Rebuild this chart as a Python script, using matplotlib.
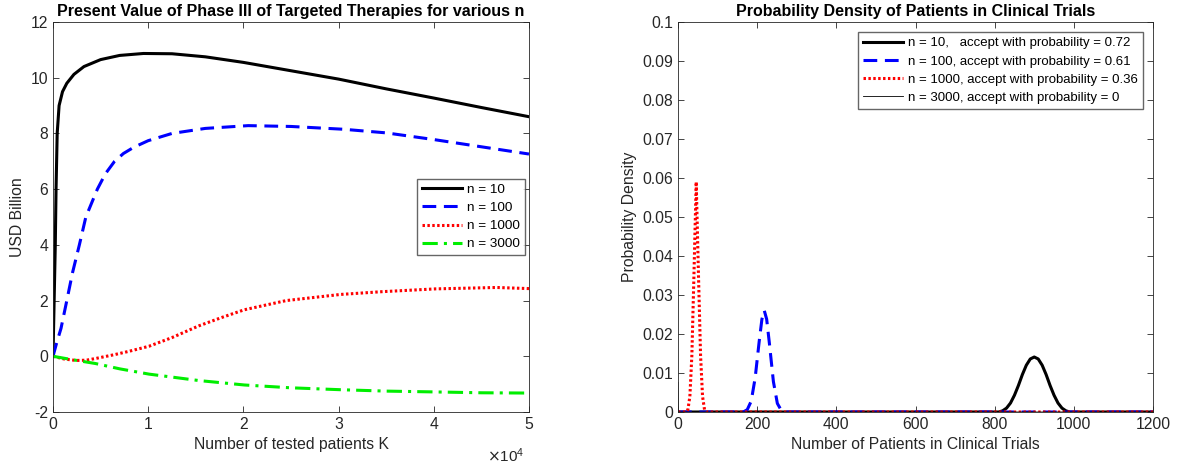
import numpy as np
import matplotlib
matplotlib.use('Agg')
import matplotlib.pyplot as plt
from matplotlib.ticker import FuncFormatter

plt.rcParams['font.family'] = ['Liberation Sans', 'DejaVu Sans']
plt.rcParams['axes.unicode_minus'] = False

# --- left panel: present value vs number of tested patients K
k_n10 = [0, 120, 240, 320, 440, 640, 1000, 1450, 2200, 3250, 5000, 7000, 9500, 12500, 16000,
         20000, 25000, 30000, 35000, 40000, 45000, 50000]
pv_n10 = [0, 2, 4, 6, 8, 9, 9.5, 9.8, 10.12, 10.4, 10.65, 10.8, 10.87, 10.86, 10.75,
          10.55, 10.25, 9.95, 9.6, 9.27, 8.93, 8.6]

k_n100 = [0, 400, 840, 1450, 2050, 2770, 3450, 4660, 5500, 6470, 7400, 8470, 10000, 12500, 16000,
          20500, 25000, 30500, 35000, 40000, 45000, 50000]
pv_n100 = [0, 0.5, 1.0, 2.0, 3.0, 4.0, 5.0, 6.0, 6.55, 7.0, 7.28, 7.5, 7.74, 8.0, 8.18,
           8.28, 8.25, 8.15, 8.02, 7.78, 7.52, 7.26]

k_n1000 = [0, 1200, 2450, 3500, 4460, 6470, 8000, 10080, 12490, 15300, 17700, 20100,
           24500, 30200, 34600, 40200, 46600, 50000]
pv_n1000 = [0, -0.1, -0.15, -0.14, -0.08, 0.06, 0.18, 0.36, 0.67, 1.09, 1.39, 1.67,
            2.0, 2.22, 2.32, 2.42, 2.47, 2.43]

k_n3000 = [0, 2000, 4460, 7000, 10080, 15300, 20100, 24900, 30200, 35000, 40200, 45000, 50000]
pv_n3000 = [0, -0.12, -0.26, -0.45, -0.64, -0.87, -1.03, -1.13, -1.2, -1.25, -1.28, -1.31, -1.32]

# --- right panel: probability density of patients in clinical trials
x_d10 = [0, 810, 820, 830, 840, 850, 860, 870, 880, 890, 900, 910, 920, 930,
         940, 950, 960, 970, 980, 990, 1200]
y_d10 = [0, 0, 0.0003, 0.001, 0.0023, 0.0043, 0.0068, 0.0096, 0.012, 0.0136, 0.0141,
         0.0136, 0.012, 0.0096, 0.0068, 0.0043, 0.0023, 0.001, 0.0003, 0, 0]

x_d100 = [0, 165, 175, 185, 195, 205, 212, 218, 224, 231, 241, 251, 261, 271, 1200]
y_d100 = [0, 0, 0.0006, 0.0028, 0.0088, 0.018, 0.0238, 0.026, 0.0238, 0.0175, 0.0078,
          0.0022, 0.0004, 0, 0]

x_d1000 = [0, 20, 25, 30, 35, 40, 46, 52, 57, 62, 67, 72, 1200]
y_d1000 = [0, 0, 0.0006, 0.004, 0.0145, 0.034, 0.059, 0.034, 0.0145, 0.004, 0.0006, 0, 0]

x_d3000 = [0, 1, 1200]
y_d3000 = [0.0076, 0, 0]

labels_left = ['n = 10', 'n = 100', 'n = 1000', 'n = 3000']
labels_right = ['n = 10,   accept with probability = 0.72',
                'n = 100, accept with probability = 0.61',
                'n = 1000, accept with probability = 0.36',
                'n = 3000, accept with probability = 0']

axcol = '#262626'
fig = plt.figure(figsize=(11.79, 4.67), dpi=100)
ax1 = fig.add_axes([53/1179, 55/467, 476/1179, 390/467])
ax2 = fig.add_axes([678/1179, 55/467, 475/1179, 390/467])

ax1.plot(k_n10, pv_n10, color='k', lw=2.2, label=labels_left[0])
ax1.plot(k_n100, pv_n100, color='b', lw=2.2, ls=(0, (4.5, 2.5)), label=labels_left[1])
ax1.plot(k_n1000, pv_n1000, color='r', lw=2.2, ls=(0, (0.8, 0.8)), label=labels_left[2])
ax1.plot(k_n3000, pv_n3000, color='#00ee00', lw=2.2, ls=(0, (5, 2, 1, 2)), label=labels_left[3])
ax1.set_xlim(0, 50000)
ax1.set_ylim(-2, 12)
ax1.set_yticks(np.arange(-2, 13, 2))
ax1.set_xticks(np.arange(0, 50001, 10000))
ax1.xaxis.set_major_formatter(FuncFormatter(lambda v, p: '%g' % (v / 1e4)))
ax1.text(0.99, -0.112, r'$\times\mathdefault{10^{4}}$', transform=ax1.transAxes,
         ha='right', va='center', fontsize=11, color=axcol)
ax1.set_title('Present Value of Phase III of Targeted Therapies for various n',
              fontsize=11.5, fontweight='bold', pad=4)
ax1.set_xlabel('Number of tested patients K', fontsize=11.3, color=axcol)
ax1.set_ylabel('USD Billion', fontsize=11.3, color=axcol)
ax1.legend(loc='center right', fontsize=9.7, frameon=True,
           fancybox=False, edgecolor='#404040', handlelength=3.0, borderaxespad=0.3,
           labelspacing=0.42, handletextpad=0.4, borderpad=0.35)

ax2.plot(x_d10, y_d10, color='k', lw=2.2, label=labels_right[0])
ax2.plot(x_d100, y_d100, color='b', lw=2.2, ls=(0, (4.5, 2.5)), label=labels_right[1])
ax2.plot(x_d1000, y_d1000, color='r', lw=2.2, ls=(0, (0.8, 0.8)), label=labels_right[2])
ax2.plot(x_d3000, y_d3000, color='k', lw=0.6, label=labels_right[3])
ax2.set_xlim(0, 1200)
ax2.set_ylim(0, 0.1)
ax2.set_xticks(np.arange(0, 1201, 200))
ax2.set_yticks(np.arange(0, 0.101, 0.01))
ax2.set_yticklabels(['0'] + ['%g' % v for v in np.arange(0.01, 0.101, 0.01).round(2)])
ax2.set_title('Probability Density of Patients in Clinical Trials',
              fontsize=11.5, fontweight='bold', pad=4)
ax2.set_xlabel('Number of Patients in Clinical Trials', fontsize=11.3, color=axcol)
ax2.set_ylabel('Probability Density', fontsize=11.3, color=axcol)
ax2.legend(loc='upper right', fontsize=9.5, frameon=True, fancybox=False,
           edgecolor='#404040', handlelength=3.0, borderaxespad=0.75,
           labelspacing=0.45, handletextpad=0.4, borderpad=0.4)

for ax in (ax1, ax2):
    ax.tick_params(direction='in', top=True, right=True, labelsize=11.3,
                   colors=axcol, length=4, width=0.6)
    for s in ax.spines.values():
        s.set_color(axcol)
        s.set_linewidth(0.6)

fig.savefig('out.png', dpi=100)
